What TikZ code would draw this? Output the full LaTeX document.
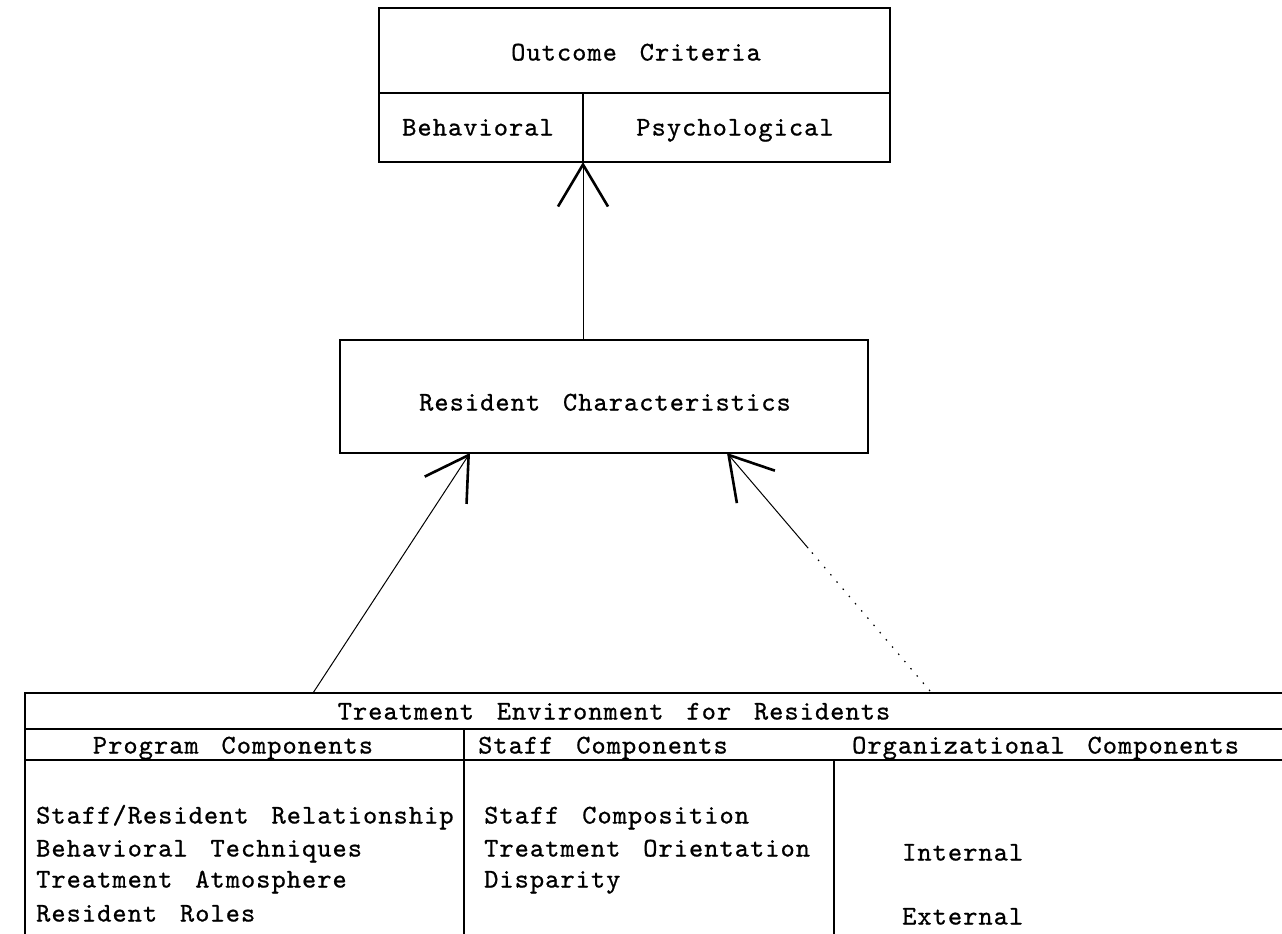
\documentclass[tikz,border=0pt]{standalone}
\usepackage{fontspec}
\newfontfamily\twfont{lmmono10-regular.otf}[LetterSpace=4,WordSpace=1.5,FakeBold=0.8]
\usetikzlibrary{arrows.meta,calc}
\begin{document}
\begin{tikzpicture}[x=1pt,y=-1pt,
  line/.style={line width=1.4pt},
  box/.style={draw, line width=1.4pt, inner sep=0pt},
  lbl/.style={font=\twfont\fontsize{27}{32}\selectfont, inner sep=0pt, text height=17pt, text depth=0pt},
  arr/.style={line width=1pt, -{Straight Barb[length=42pt,width=50pt,line width=2.6pt]}},
]
\useasboundingbox (0,0) rectangle (1282,934);
% Outcome criteria
\node[box, minimum width=511pt, minimum height=154pt] (oc) at (634.5,85) {};
\draw[line] (379,93) -- (890,93);
\coordinate (dv) at (583,162);
\draw[line] (583,93) -- (dv);
\node[lbl] (oct) at (636,52) {Outcome Criteria};
\node[lbl] (beh) at (478,127) {Behavioral};
\node[lbl] (psy) at (735,127) {Psychological};
% Resident characteristics
\node[box, minimum width=528pt, minimum height=113pt] (rc) at (604,396.5) {};
\node[lbl] (rct) at (605,402) {Resident Characteristics};
\draw[arr] (rc.north -| dv) -- (dv);
% Table
\coordinate (ttl) at (25,693);
\coordinate (ttr) at (1282,693);
\draw[line] (25,934) -- (ttl) -- (ttr);
\draw[line] (25,729) -- (1282,729);
\draw[line] (25,760) -- (1282,760);
\draw[line] (464,729) -- (464,934);
\draw[line] (834,760) -- (834,934);
\node[lbl] (ttitle) at (614,711) {Treatment Environment for Residents};
\node[lbl] (hp) at (233,745) {Program Components};
\node[lbl, anchor=west] (hs) at (478,745) {Staff Components};
\node[lbl, anchor=west] (ho) at (852,745) {Organizational Components};
\node[lbl, anchor=west] (p1) at (36,815) {Staff/Resident Relationship};
\node[lbl, anchor=west] (p2) at (36,848) {Behavioral Techniques};
\node[lbl, anchor=west] (p3) at (36,879) {Treatment Atmosphere};
\node[lbl, anchor=west] (p4) at (36,913) {Resident Roles};
\node[lbl, anchor=west] (s1t) at (484,815) {Staff Composition};
\node[lbl, anchor=west] (s2t) at (484,848) {Treatment Orientation};
\node[lbl, anchor=west] (s3t) at (484,879) {Disparity};
\node[lbl, anchor=west] (o1) at (902,852) {Internal};
\node[lbl, anchor=west] (o2) at (902,916) {External};
% arrows from table
\coordinate (a1) at (313,693);
\coordinate (b1) at (470,453);
\draw[arr] (a1) -- (b1);
\coordinate (a2) at (930,691);
\coordinate (b2) at (727,453);
\coordinate (m2) at ($(a2)!0.6!(b2)$);
\draw[line width=1.2pt, dash pattern=on 1.5pt off 8pt] (a2) -- (m2);
\draw[arr] (m2) -- (b2);
\end{tikzpicture}
\end{document}
